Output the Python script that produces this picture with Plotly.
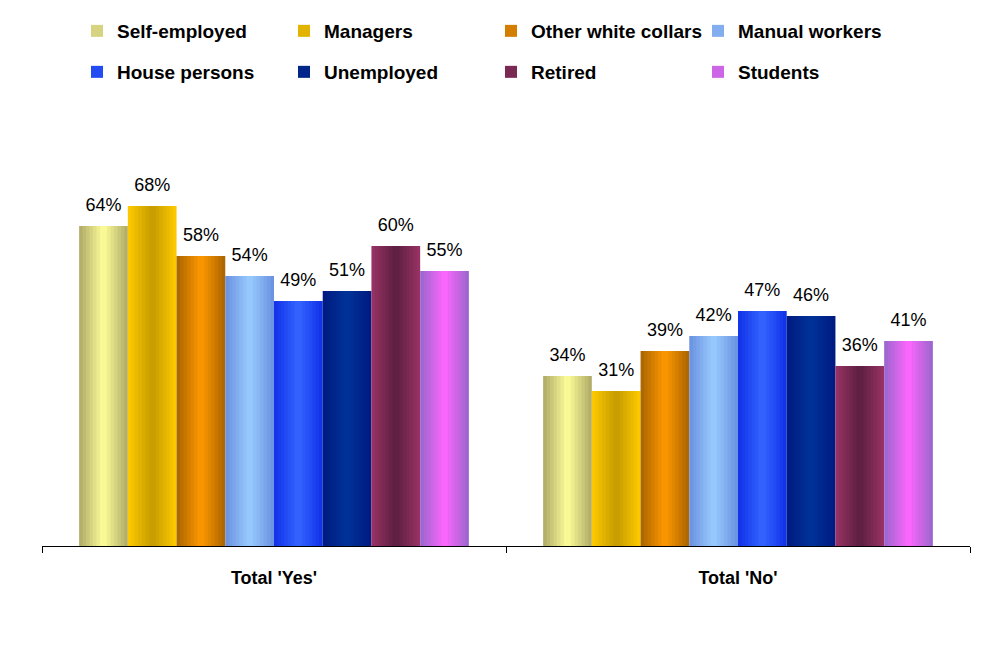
import plotly.graph_objects as go

categories = ["Total 'Yes'", "Total 'No'"]
series_names = ["Self-employed", "Managers", "Other white collars", "Manual workers",
                "House persons", "Unemployed", "Retired", "Students"]
self_employed = [64, 34]
managers = [68, 31]
other_white_collars = [58, 39]
manual_workers = [54, 42]
house_persons = [49, 47]
unemployed = [51, 46]
retired = [60, 36]
students = [55, 41]
values = [self_employed, managers, other_white_collars, manual_workers,
          house_persons, unemployed, retired, students]

# (edge colour, centre colour) of each bar's horizontal gradient
grad = [
    ("#ADA866", "#FFFF99"),
    ("#FFCC00", "#C49A00"),
    ("#A86400", "#FF9900"),
    ("#6A90E0", "#99CCFF"),
    ("#1030E8", "#3366FF"),
    ("#001A80", "#003399"),
    ("#993366", "#5C1F40"),
    ("#9966CC", "#FF66FF"),
]

def hex2rgb(h):
    h = h.lstrip("#")
    return tuple(int(h[i:i + 2], 16) for i in (0, 2, 4))

def mix(c1, c2, t):
    a, b = hex2rgb(c1), hex2rgb(c2)
    return "rgb(%d,%d,%d)" % tuple(round(a[i] * (1 - t) + b[i] * t) for i in range(3))

bargap = 0.16
slot = (1 - bargap) / len(series_names)
fracs = [1.0, 6 / 7, 5 / 7, 4 / 7, 3 / 7, 2 / 7, 1 / 7]
legend_layer = 3

fig = go.Figure()
for s, (name, vals) in enumerate(zip(series_names, values)):
    edge, centre = grad[s]
    leg = "legend" if s < 4 else "legend2"
    for k, f in enumerate(fracs):
        nxt = fracs[k + 1] if k + 1 < len(fracs) else 0.0
        d = (f + nxt) / 2  # distance from centre, 0..1
        col = mix(centre, edge, d)
        kw = {}
        if k > 0:
            kw["width"] = slot * f
        fig.add_trace(go.Bar(
            x=categories, y=vals, name=name, offsetgroup=str(s),
            legendgroup=name, showlegend=(k == legend_layer), legend=leg,
            marker=dict(color=col, line=dict(width=0)),
            hoverinfo="skip", **kw))
    # value labels, aligned with the bars through the scatter grouping
    fig.add_trace(go.Scatter(
        x=categories, y=vals, offsetgroup=str(s), mode="markers+text",
        text=[f"{v}%" for v in vals], textposition="top center",
        textfont=dict(family="Liberation Sans", size=18, color="#000000"),
        marker=dict(size=16, opacity=0), showlegend=False, legend=leg,
        hoverinfo="skip", cliponaxis=False))

legend_common = dict(
    orientation="h", xref="container", yref="container",
    xanchor="left", yanchor="middle", entrywidth=162, entrywidthmode="pixels",
    font=dict(family="Liberation Sans", size=19, color="#000000", weight="bold"),
    bgcolor="rgba(0,0,0,0)", borderwidth=0, traceorder="normal",
)
# the page body adds an 8px offset, so figure coordinates are shifted by 8px
fig.update_layout(
    barmode="group", bargap=bargap, bargroupgap=0,
    scattermode="group", scattergap=bargap,
    width=1008, height=661,
    margin=dict(l=34, r=46, t=138, b=123, autoexpand=False),
    paper_bgcolor="white", plot_bgcolor="white",
    legend=dict(x=69 / 1008, y=1 - 23 / 661, **legend_common),
    legend2=dict(x=69 / 1008, y=1 - 64 / 661, **legend_common),
    xaxis=dict(
        showline=True, linecolor="#000000", linewidth=1,
        ticks="outside", tickson="boundaries", ticklen=6, tickcolor="#000000",
        tickfont=dict(family="Liberation Sans", size=18, color="#000000", weight="bold"),
        ticklabelstandoff=15, showgrid=False, zeroline=False,
    ),
    yaxis=dict(visible=False, range=[0, 80], showgrid=False, zeroline=False),
)

fig.write_html("out.html")
